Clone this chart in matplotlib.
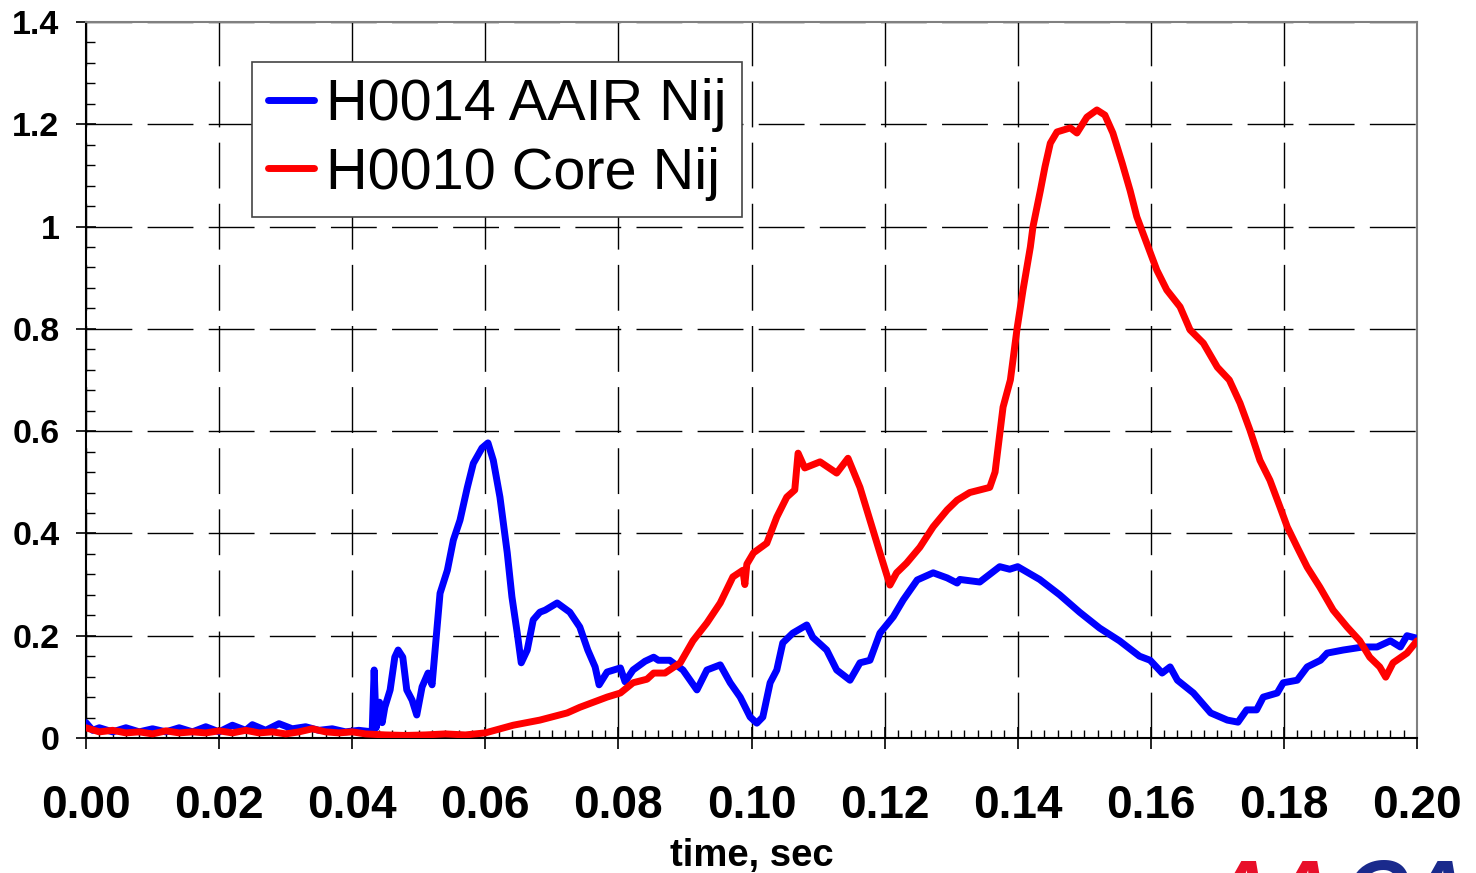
import numpy as np
import matplotlib.pyplot as plt
from matplotlib.ticker import MultipleLocator, FormatStrFormatter

plt.rcParams['font.family'] = ['Liberation Sans', 'DejaVu Sans']

# H0014 AAIR Nij (blue)
t_aair = [0.000, 0.001, 0.002, 0.004, 0.006, 0.008, 0.010, 0.012, 0.014, 0.016,
          0.018, 0.020, 0.022, 0.024, 0.025, 0.027, 0.029, 0.031, 0.033, 0.035,
          0.037, 0.039, 0.041, 0.0430, 0.0433, 0.0436, 0.0441, 0.0445, 0.0449, 0.0457,
          0.0464, 0.0469, 0.0476, 0.0482, 0.0490, 0.0497, 0.0505, 0.0514, 0.0520, 0.0525,
          0.0532, 0.0543, 0.0552, 0.0562, 0.0573, 0.0582, 0.0595, 0.0604, 0.0612, 0.0622,
          0.0633, 0.0640, 0.0648, 0.0654, 0.0663, 0.0672, 0.0682, 0.0690, 0.0708, 0.0727,
          0.0742, 0.0754, 0.0765, 0.0771, 0.0783, 0.0803, 0.0810, 0.0822, 0.0840, 0.0853,
          0.0860, 0.0877, 0.0897, 0.0918, 0.0933, 0.0953, 0.0968, 0.0983, 0.0998, 0.1008,
          0.1017, 0.1028, 0.1038, 0.1047, 0.1062, 0.1083, 0.1092, 0.1113, 0.1128, 0.1148,
          0.1163, 0.1178, 0.1193, 0.1213, 0.1228, 0.1249, 0.1273, 0.1294, 0.1309, 0.1313,
          0.1343, 0.1358, 0.1373, 0.1388, 0.1400, 0.1433, 0.1463, 0.1493, 0.1523, 0.1553,
          0.1583, 0.1599, 0.1617, 0.1629, 0.1640, 0.1664, 0.1690, 0.1715, 0.1731, 0.1744,
          0.1759, 0.1769, 0.1790, 0.1799, 0.1820, 0.1835, 0.1855, 0.1865, 0.1889, 0.1919,
          0.1940, 0.1960, 0.1975, 0.1985, 0.2000]
nij_aair = [0.030, 0.015, 0.020, 0.012, 0.020, 0.012, 0.018, 0.012, 0.020, 0.012,
            0.022, 0.012, 0.025, 0.015, 0.026, 0.015, 0.028, 0.018, 0.022, 0.015,
            0.018, 0.012, 0.015, 0.012, 0.133, 0.020, 0.070, 0.030, 0.060, 0.094,
            0.158, 0.172, 0.158, 0.094, 0.074, 0.045, 0.100, 0.127, 0.104, 0.178,
            0.283, 0.328, 0.387, 0.426, 0.490, 0.537, 0.567, 0.577, 0.543, 0.471,
            0.362, 0.276, 0.205, 0.147, 0.172, 0.231, 0.246, 0.250, 0.264, 0.246,
            0.217, 0.172, 0.139, 0.104, 0.129, 0.137, 0.110, 0.133, 0.150, 0.158,
            0.152, 0.152, 0.133, 0.094, 0.133, 0.143, 0.108, 0.080, 0.041, 0.029,
            0.041, 0.108, 0.133, 0.186, 0.205, 0.221, 0.197, 0.172, 0.133, 0.113,
            0.147, 0.152, 0.205, 0.237, 0.270, 0.309, 0.323, 0.313, 0.303, 0.310,
            0.305, 0.320, 0.335, 0.330, 0.335, 0.310, 0.280, 0.246, 0.215, 0.190,
            0.160, 0.152, 0.127, 0.139, 0.113, 0.088, 0.049, 0.035, 0.031, 0.055,
            0.055, 0.080, 0.088, 0.108, 0.113, 0.139, 0.152, 0.166, 0.172, 0.178,
            0.178, 0.190, 0.178, 0.200, 0.195]

# H0010 Core Nij (red)
t_core = [0.000, 0.002, 0.004, 0.006, 0.008, 0.010, 0.012, 0.014, 0.016, 0.018,
          0.020, 0.022, 0.024, 0.026, 0.028, 0.030, 0.032, 0.034, 0.036, 0.038,
          0.040, 0.042, 0.045, 0.048, 0.051, 0.054, 0.057, 0.060, 0.0642, 0.0682,
          0.0723, 0.0742, 0.0783, 0.0803, 0.0822, 0.0843, 0.0853, 0.0870, 0.0893, 0.0912,
          0.0933, 0.0953, 0.0972, 0.0987, 0.0990, 0.0993, 0.1003, 0.1023, 0.1038, 0.1053,
          0.1065, 0.1070, 0.1080, 0.1103, 0.1128, 0.1145, 0.1163, 0.1178, 0.1193, 0.1208,
          0.1218, 0.1233, 0.1253, 0.1273, 0.1294, 0.1309, 0.1328, 0.1358, 0.1366, 0.1378,
          0.1389, 0.1399, 0.1408, 0.1419, 0.1423, 0.1434, 0.1441, 0.1449, 0.1459, 0.1479,
          0.1489, 0.1504, 0.1519, 0.1531, 0.1543, 0.1557, 0.1569, 0.1579, 0.1594, 0.1609,
          0.1624, 0.1644, 0.1659, 0.1679, 0.1700, 0.1718, 0.1734, 0.1749, 0.1764, 0.1779,
          0.1794, 0.1805, 0.1820, 0.1835, 0.1854, 0.1874, 0.1895, 0.1914, 0.1929, 0.1944,
          0.1953, 0.1964, 0.1985, 0.2000]
nij_core = [0.020, 0.012, 0.015, 0.010, 0.012, 0.008, 0.014, 0.010, 0.012, 0.010,
            0.014, 0.010, 0.015, 0.010, 0.012, 0.008, 0.012, 0.018, 0.012, 0.010,
            0.012, 0.008, 0.006, 0.005, 0.006, 0.008, 0.006, 0.010, 0.025, 0.035,
            0.049, 0.060, 0.080, 0.088, 0.108, 0.115, 0.127, 0.127, 0.147, 0.190,
            0.225, 0.264, 0.315, 0.328, 0.300, 0.340, 0.362, 0.381, 0.432, 0.471,
            0.485, 0.557, 0.528, 0.540, 0.518, 0.547, 0.490, 0.426, 0.362, 0.299,
            0.323, 0.342, 0.373, 0.413, 0.446, 0.465, 0.480, 0.490, 0.520, 0.647,
            0.700, 0.800, 0.876, 0.960, 1.000, 1.070, 1.117, 1.163, 1.185, 1.193,
            1.183, 1.214, 1.228, 1.218, 1.183, 1.124, 1.070, 1.019, 0.967, 0.915,
            0.876, 0.843, 0.798, 0.772, 0.725, 0.700, 0.655, 0.602, 0.543, 0.504,
            0.452, 0.413, 0.373, 0.334, 0.295, 0.250, 0.217, 0.190, 0.158, 0.139,
            0.119, 0.147, 0.166, 0.190]

series_labels = ['H0014 AAIR Nij', 'H0010 Core Nij']

fig = plt.figure(figsize=(14.76, 8.73), dpi=100)
ax = fig.add_axes([86 / 1476, 135 / 873, 1331 / 1476, 716 / 873])

ax.plot(t_aair, nij_aair, color='#0000ff', lw=5, solid_joinstyle='round',
        solid_capstyle='round', label=series_labels[0], zorder=3)
ax.plot(t_core, nij_core, color='#ff0000', lw=5, solid_joinstyle='round',
        solid_capstyle='round', label=series_labels[1], zorder=4)

ax.set_xlim(0, 0.2)
ax.set_ylim(0, 1.4)
ax.xaxis.set_major_locator(MultipleLocator(0.02))
ax.xaxis.set_minor_locator(MultipleLocator(0.002))
ax.yaxis.set_minor_locator(MultipleLocator(0.04))
ax.xaxis.set_major_formatter(FormatStrFormatter('%.2f'))
ax.set_yticks([0, 0.2, 0.4, 0.6, 0.8, 1.0, 1.2, 1.4])
ax.set_yticklabels(['0', '0.2', '0.4', '0.6', '0.8', '1', '1.2', '1.4'])

ax.grid(True, which='major', color='black', lw=1.0, linestyle=(0, (33, 11)))
ax.set_axisbelow(True)

ax.tick_params(axis='y', which='major', direction='inout', length=14, width=1.2,
               labelsize=24.5, pad=12)
ax.tick_params(axis='y', which='minor', direction='in', length=6.5, width=1.0)
ax.tick_params(axis='x', which='major', direction='inout', length=16, width=1.2,
               labelsize=33, pad=25)
ax.tick_params(axis='x', which='minor', direction='in', length=6, width=1.0)
for lab in ax.get_xticklabels() + ax.get_yticklabels():
    lab.set_fontweight('bold')

for side in ['top', 'right']:
    ax.spines[side].set_color('#808080')
    ax.spines[side].set_linewidth(1.5)
for side in ['left', 'bottom']:
    ax.spines[side].set_color('black')
    ax.spines[side].set_linewidth(1.5)

ax.set_xlabel('time, sec', fontsize=27.5, fontweight='bold', labelpad=7)

leg = ax.legend(loc='upper left', bbox_to_anchor=(166 / 1331, 676 / 716),
                fontsize=41.5, frameon=True, fancybox=False, handlelength=0.8,
                handletextpad=0.2, borderpad=0.28, labelspacing=0.25,
                borderaxespad=0)
leg.get_frame().set_edgecolor('#444444')
leg.get_frame().set_linewidth(1.2)
leg.get_frame().set_alpha(1)

# logo cut off at bottom right
fig.text(1210 / 1476, 15 / 873, 'AA', color='#e8102a', fontsize=62,
         fontweight='bold', fontstyle='italic', va='top', ha='left')
fig.text(1345 / 1476, 15 / 873, 'CA', color='#1a2a8c', fontsize=62,
         fontweight='bold', fontstyle='italic', va='top', ha='left')

fig.savefig('out.png', dpi=100)
